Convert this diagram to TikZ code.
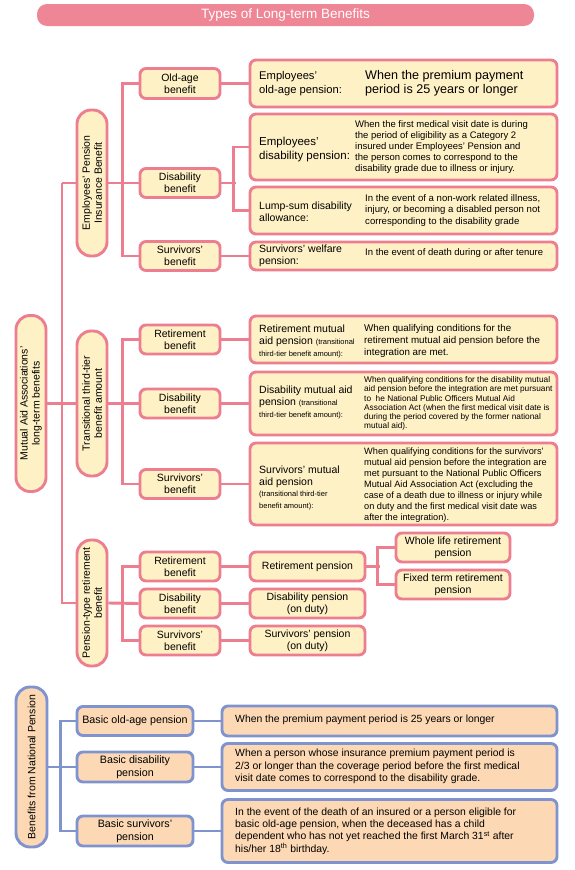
\documentclass[tikz,border=0pt]{standalone}
\usepackage{fontspec}
\setmainfont{Liberation Sans}
\definecolor{pinkB}{HTML}{EC7E90}
\definecolor{pinkF}{HTML}{FFF1C6}
\definecolor{titleF}{HTML}{EF8696}
\definecolor{blueB}{HTML}{7F93CF}
\definecolor{blueF}{HTML}{FCD9B4}
\newcommand\fs[2]{\fontsize{#1}{#2}\selectfont}
\tikzset{
  pk/.style={draw=pinkB, fill=pinkF, line width=2.9pt, rounded corners=6pt, inner sep=0pt, align=center},
  bl/.style={draw=blueB, fill=blueF, line width=2.9pt, rounded corners=6pt, inner sep=0pt, align=center},
  lvtwo/.style={pk, minimum width=80pt, minimum height=29pt, font=\fs{10.5}{12}},
  desc/.style={pk, minimum width=307pt},
  vroot/.style={rotate=90, minimum height=30pt, rounded corners=14pt, font=\fs{10.5}{12}},
  pline/.style={draw=pinkB, line width=2.9pt},
  bline/.style={draw=blueB, line width=2.9pt},
  txt/.style={anchor=west, align=left, inner sep=0pt},
}
\begin{document}
\begin{tikzpicture}[x=1pt,y=-1pt]
\useasboundingbox (0,0) rectangle (574,870);

% title
\node[fill=titleF, rounded corners=10pt, minimum width=497pt, minimum height=22pt, inner sep=0pt,
  text=white, font=\fs{13.5}{15}] (title) at (285.5,15) {Types of Long-term Benefits};

% ---------- Mutual aid part ----------
\node[pk, vroot, minimum width=176pt] (mut) at (31,403.5) {Mutual Aid Associations’\\long-term benefits};
\node[pk, vroot, minimum width=146pt] (epib) at (92,183) {Employees’ Pension\\Insurance Benefit};
\node[pk, vroot, minimum width=145pt] (trans) at (92,403.5) {Transitional third-tier\\benefit amount};
\node[pk, vroot, minimum width=126pt] (ptrb) at (92,603) {Pension-type retirement\\benefit};

\coordinate (t1) at (62,183);
\coordinate (t3) at (62,603);

% level two
\node[lvtwo, minimum height=30pt] (old1) at (180,83.5) {Old-age\\benefit};
\node[lvtwo] (dis1) at (180,183) {Disability\\benefit};
\node[lvtwo] (surv1) at (180,256) {Survivors’\\benefit};
\node[lvtwo] (ret2) at (180,339.5) {Retirement\\benefit};
\node[lvtwo] (dis2) at (180,403.5) {Disability\\benefit};
\node[lvtwo] (surv2) at (180,484) {Survivors’\\benefit};
\node[lvtwo] (ret3) at (180,566.5) {Retirement\\benefit};
\node[lvtwo] (dis3) at (180,603.5) {Disability\\benefit};
\node[lvtwo] (surv3) at (180,640.5) {Survivors’\\benefit};

% description boxes
\node[desc, minimum height=47pt] (eop) at (403.5,83.5) {};
\node[desc, minimum height=66pt] (edp) at (403.5,147) {};
\node[desc, minimum height=47pt] (lump) at (403.5,210.5) {};
\node[desc, minimum height=28pt] (swp) at (403.5,256) {};
\node[desc, minimum height=47pt] (rmap) at (403.5,339.5) {};
\node[desc, minimum height=63pt] (dmap) at (403.5,403.5) {};
\node[desc, minimum height=82pt] (smap) at (403.5,484) {};

% texts in description boxes
\node[txt, font=\fs{11.2}{13.3}] (eopL) at (259,83.5) {Employees’\\old-age pension:};
\node[txt, font=\fs{12.6}{14}] (eopD) at (365,83.5) {When the premium payment\\period is 25 years or longer};

\node[txt, font=\fs{11.5}{14}] (edpL) at (259,149.5) {Employees’\\disability pension:};
\node[txt, font=\fs{9.5}{11.2}] (edpD) at (355,147) {When the first medical visit date is during\\the period of eligibility as a Category 2\\insured under Employees’ Pension and\\the person comes to correspond to the\\disability grade due to illness or injury.};

\node[txt, font=\fs{10.5}{12}] (lumpL) at (259,212) {Lump-sum disability\\allowance:};
\node[txt, font=\fs{9.6}{11.2}] (lumpD) at (365,210.5) {In the event of a non-work related illness,\\injury, or becoming a disabled person not\\corresponding to the disability grade};

\node[txt, font=\fs{10.5}{12}] (swpL) at (259,255.5) {Survivors’ welfare\\pension:};
\node[txt, font=\fs{9.5}{11}] (swpD) at (365,253) {In the event of death during or after tenure};

\node[txt, font=\fs{10.5}{12}] (rmapL) at (259,341) {Retirement mutual\\aid pension {\fs{7.5}{9}(transitional}\\{\fs{7.5}{10}third-tier benefit amount):}};
\node[txt, font=\fs{9.8}{11.7}] (rmapD) at (364,341) {When qualifying conditions for the\\retirement mutual aid pension before the\\integration are met.};

\node[txt, font=\fs{10.5}{12}] (dmapL) at (259,402) {Disability mutual aid\\pension {\fs{7.5}{9}(transitional}\\{\fs{7.5}{10}third-tier benefit amount):}};
\node[txt, font=\fs{8.3}{9.3}] (dmapD) at (364,403.5) {When qualifying conditions for the disability mutual\\aid pension before the integration are met pursuant\\to\ \ he National Public Officers Mutual Aid\\Association Act (when the first medical visit date is\\during the period covered by the former national\\mutual aid).};

\node[txt, font=\fs{10.5}{11.5}] (smapL) at (259,488) {Survivors’ mutual\\aid pension\\{\fs{7.5}{10}(transitional third-tier}\\{\fs{7.5}{10}benefit amount):}};
\node[txt, font=\fs{9.2}{11}] (smapD) at (364,485) {When qualifying conditions for the survivors’\\mutual aid pension before the integration are\\met pursuant to the National Public Officers\\Mutual Aid Association Act (excluding the\\case of a death due to illness or injury while\\on duty and the first medical visit date was\\after the integration).};

% pension-type boxes
\node[pk, minimum width=115pt, minimum height=29pt, font=\fs{10.5}{12}] (rp) at (307.5,566.5) {Retirement pension};
\node[pk, minimum width=115pt, minimum height=29pt, font=\fs{10.5}{12}] (dp) at (307.5,603.5) {Disability pension\\(on duty)};
\node[pk, minimum width=115pt, minimum height=29pt, font=\fs{10.5}{12}] (sp) at (307.5,640.5) {Survivors’ pension\\(on duty)};
\node[pk, minimum width=114pt, minimum height=29pt, font=\fs{10.5}{12}] (wl) at (453,547.5) {Whole life retirement\\pension};
\node[pk, minimum width=114pt, minimum height=29pt, font=\fs{10.5}{12}] (ft) at (453,584.5) {Fixed term retirement\\pension};

% connectors (pink)
\draw[pline] (mut.south) -- (trans.north);
\draw[pline] (t1) -- (epib.north);
\draw[pline] (t1) -- (t3) -- (ptrb.north);
\draw[pline] (epib.south) -- (dis1.west);
\draw[pline] (old1.west) -- ++(-16,0) |- (surv1.west);
\draw[pline] (old1.east) -- (eop.west);
\draw[pline] (edp.west) -- ++(-15,0) |- (lump.west);
\draw[pline] (dis1.east) -- ++(15,0);
\draw[pline] (surv1.east) -- (swp.west);
\draw[pline] (trans.south) -- (dis2.west);
\draw[pline] (ret2.west) -- ++(-16,0) |- (surv2.west);
\draw[pline] (ret2.east) -- (rmap.west);
\draw[pline] (dis2.east) -- (dmap.west);
\draw[pline] (surv2.east) -- (smap.west);
\draw[pline] (ptrb.south) -- (dis3.west);
\draw[pline] (ret3.west) -- ++(-16,0) |- (surv3.west);
\draw[pline] (ret3.east) -- (rp.west);
\draw[pline] (dis3.east) -- (dp.west);
\draw[pline] (surv3.east) -- (sp.west);
\draw[pline] (rp.east) -- ++(14,0);
\draw[pline] (wl.west) -- ++(-17,0) |- (ft.west);

% ---------- National pension part ----------
\node[bl, vroot, minimum width=160pt, minimum height=31pt] (nat) at (31.5,767) {Benefits from National Pension};
\node[bl, minimum width=116pt, minimum height=29pt, font=\fs{10.7}{12.5}] (bold) at (135,721) {Basic old-age pension};
\node[bl, minimum width=116pt, minimum height=30pt, font=\fs{10.7}{12.5}] (bdis) at (135,767) {Basic disability\\pension};
\node[bl, minimum width=116pt, minimum height=30pt, font=\fs{10.7}{12.5}] (bsurv) at (135,831) {Basic survivors’\\pension};
\node[bl, minimum width=335pt, minimum height=30pt] (d1) at (389.5,721) {};
\node[bl, minimum width=335pt, minimum height=47pt] (d2) at (389.5,767) {};
\node[bl, minimum width=335pt, minimum height=63pt] (d3) at (389.5,831) {};
\node[txt, font=\fs{10.4}{12.4}] (d1T) at (235,720) {When the premium payment period is 25 years or longer};
\node[txt, font=\fs{10.4}{12.4}] (d2T) at (235,766.5) {When a person whose insurance premium payment period is\\2/3 or longer than the coverage period before the first medical\\visit date comes to correspond to the disability grade.};
\node[txt, font=\fs{10.4}{12.4}] (d3T) at (235,831) {In the event of the death of an insured or a person eligible for\\basic old-age pension, when the deceased has a child\\dependent who has not yet reached the first March 31\textsuperscript{st} after\\his/her 18\textsuperscript{th} birthday.};

\draw[bline] (nat.south) -- (bdis.west);
\draw[bline] (bold.west) -- ++(-15,0) |- (bsurv.west);
\draw[bline] (bold.east) -- (d1.west);
\draw[bline] (bdis.east) -- (d2.west);
\draw[bline] (bsurv.east) -- (d3.west);
\end{tikzpicture}
\end{document}
